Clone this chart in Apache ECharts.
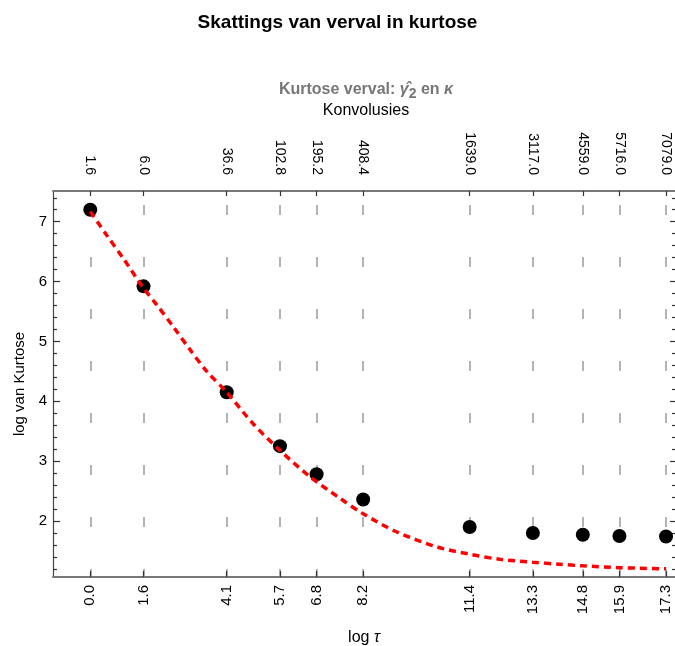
<!DOCTYPE html>
<html>
<head>
<meta charset="utf-8">
<script src="https://cdn.jsdelivr.net/npm/echarts@6/dist/echarts.min.js"></script>
<style>
  html, body { margin: 0; padding: 0; background: #ffffff; }
  #chart { width: 675px; height: 646px; }
</style>
</head>
<body>
<div id="chart"></div>
<script>
// ---- data ----
const logTau = [0.0, 1.6, 4.1, 5.7, 6.8, 8.2, 11.4, 13.3, 14.8, 15.9, 17.3];
const convolutions = ['1.6', '6.0', '36.6', '102.8', '195.2', '408.4', '1639.0', '3117.0', '4559.0', '5716.0', '7079.0'];
const logKurtosis = [7.20, 5.92, 4.15, 3.25, 2.78, 2.36, 1.90, 1.80, 1.77, 1.75, 1.74];

// fitted (red dashed) curve, read point by point
const fitX = [0.0, 0.5, 1.0, 1.6, 2.0, 2.5, 3.0, 3.5, 4.1, 4.9, 5.7, 6.6, 7.5, 8.2, 9.2, 10.4, 11.4, 12.3, 13.3, 14.1, 14.8, 15.9, 17.3];
const fitY = [7.17, 6.77, 6.38, 5.89, 5.61, 5.24, 4.86, 4.50, 4.15, 3.62, 3.18, 2.74, 2.38, 2.12, 1.82, 1.57, 1.445, 1.36, 1.31, 1.277, 1.25, 1.22, 1.20];

const yMajorTicks = [2, 3, 4, 5, 6, 7];
const yMinorTicks = [1.2, 1.4, 1.6, 1.8, 2.2, 2.4, 2.6, 2.8, 3.2, 3.4, 3.6, 3.8, 4.2, 4.4, 4.6, 4.8,
                     5.2, 5.4, 5.6, 5.8, 6.2, 6.4, 6.6, 6.8, 7.2, 7.4];

const xMin = -1.12, xMax = 17.57;
const yMin = 1.064, yMax = 7.513;

const FONT = 'Liberation Sans, Arial, Helvetica, sans-serif';

const chart = echarts.init(document.getElementById('chart'), null, { renderer: 'canvas' });

const scatterData = logTau.map((x, i) => [x, logKurtosis[i]]);
const fitData = fitX.map((x, i) => [x, fitY[i]]);

function baseY(extra) {
  const o = Object.assign({
    type: 'value', min: yMin, max: yMax,
    splitLine: { show: false },
    axisLabel: { show: false }
  }, extra);
  o.axisLine = Object.assign({ show: false, onZero: false }, extra.axisLine || {});
  return o;
}

const option = {
  animation: false,
  backgroundColor: '#ffffff',
  title: {
    text: 'Skattings van verval in kurtose',
    left: 'center',
    top: 8,
    textStyle: { fontFamily: FONT, fontWeight: 'bold', fontSize: 19, color: '#000' }
  },
  graphic: [
    {
      type: 'text', x: 366, y: 90,
      style: {
        text: '{g|Kurtose verval: }{gi|γ̂}{sub|2}{g| en }{gi|κ}',
        textAlign: 'center', textVerticalAlign: 'middle',
        rich: {
          g: { fontFamily: FONT, fontWeight: 'bold', fontSize: 16, fill: '#777', lineHeight: 22 },
          gi: { fontFamily: FONT, fontWeight: 'bold', fontStyle: 'italic', fontSize: 16, fill: '#777', lineHeight: 22 },
          sub: { fontFamily: FONT, fontWeight: 'bold', fontSize: 14, fill: '#777', lineHeight: 14, verticalAlign: 'bottom' }
        }
      }
    },
    {
      type: 'text', x: 366, y: 111,
      style: {
        text: 'Konvolusies', textAlign: 'center', textVerticalAlign: 'middle',
        fontFamily: FONT, fontSize: 16, fill: '#000'
      }
    }
  ],
  grid: { left: 53, right: 0, top: 191, bottom: 69, containLabel: false, outerBoundsMode: 'none' },
  xAxis: [
    {
      type: 'value', position: 'bottom', min: xMin, max: xMax,
      name: '{n|log }{i|τ}', nameLocation: 'middle', nameGap: 53,
      nameTextStyle: {
        rich: {
          n: { fontFamily: FONT, fontSize: 16, color: '#000' },
          i: { fontFamily: FONT, fontSize: 16, fontStyle: 'italic', color: '#000' }
        }
      },
      axisLine: { show: true, onZero: false, lineStyle: { color: '#777', width: 2 } },
      axisTick: { show: true, inside: true, length: 6, customValues: logTau, lineStyle: { color: '#333', width: 1.2 } },
      axisLabel: {
        show: true, customValues: logTau, rotate: 90, margin: 8,
        fontFamily: FONT, fontSize: 15, color: '#000',
        formatter: v => Number(v).toFixed(1)
      },
      splitLine: {
        show: true,
        lineStyle: { color: '#9a9a9a', width: 1.5, type: [10, 42], dashOffset: 38 }
      }
    },
    {
      type: 'value', position: 'top', min: xMin, max: xMax,
      axisLine: { show: true, onZero: false, lineStyle: { color: '#777', width: 2 } },
      axisTick: { show: true, inside: true, length: 5, customValues: logTau, lineStyle: { color: '#333', width: 1.2 } },
      axisLabel: {
        show: true, customValues: logTau, rotate: 90, margin: 16,
        fontFamily: FONT, fontSize: 14, color: '#000',
        formatter: v => {
          const i = logTau.findIndex(t => Math.abs(t - v) < 1e-6);
          return i >= 0 ? convolutions[i] : '';
        }
      },
      splitLine: { show: false }
    }
  ],
  yAxis: [
    baseY({
      position: 'left',
      name: 'log van Kurtose', nameLocation: 'middle', nameGap: 24,
      nameTextStyle: { fontFamily: FONT, fontSize: 15, color: '#000' },
      axisLine: { show: true, lineStyle: { color: '#444', width: 1.2 } },
      axisTick: { show: true, inside: true, length: 7, customValues: yMajorTicks, lineStyle: { color: '#333', width: 1.2 } },
      axisLabel: { show: true, customValues: yMajorTicks, margin: 6, fontFamily: FONT, fontSize: 15, color: '#000' }
    }),
    baseY({
      position: 'left',
      axisTick: { show: true, inside: true, length: 4, customValues: yMinorTicks, lineStyle: { color: '#333', width: 1.2 } }
    }),
    baseY({
      position: 'right',
      axisTick: { show: true, inside: true, length: 5, customValues: yMajorTicks, lineStyle: { color: '#333', width: 1.2 } }
    }),
    baseY({
      position: 'right',
      axisTick: { show: true, inside: true, length: 3, customValues: yMinorTicks, lineStyle: { color: '#333', width: 1.2 } }
    })
  ],
  series: [
    {
      name: 'Kurtose', type: 'scatter', xAxisIndex: 0, yAxisIndex: 0,
      data: scatterData, symbol: 'circle', symbolSize: 14,
      itemStyle: { color: '#000', opacity: 1 }, z: 3
    },
    {
      name: 'Passing', type: 'line', xAxisIndex: 0, yAxisIndex: 0,
      data: fitData, smooth: 0.3, showSymbol: false, symbol: 'none',
      lineStyle: { color: '#ff0000', width: 3.5, type: [7, 5] }, z: 4
    }
  ]
};

chart.setOption(option);
</script>
</body>
</html>
